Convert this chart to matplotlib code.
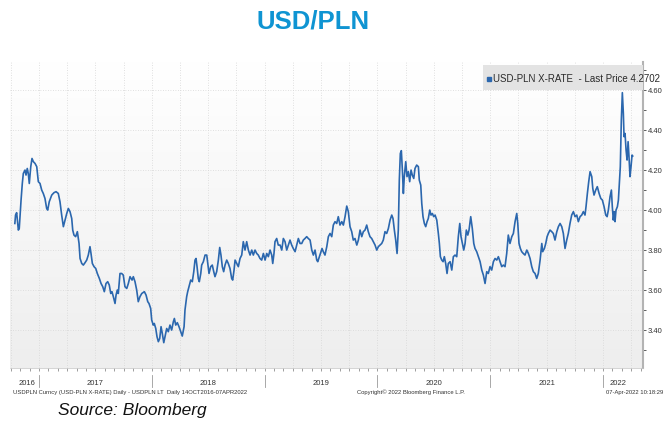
import matplotlib.pyplot as plt
import matplotlib.transforms as mtransforms
import numpy as np
from matplotlib import font_manager
from matplotlib.colors import LinearSegmentedColormap
from matplotlib.patches import Rectangle
from matplotlib.ticker import MultipleLocator, FixedLocator

# USD/PLN daily fixings (decimal year, rate)
dates = [
    2016.786, 2016.792, 2016.802, 2016.808, 2016.817, 2016.825, 2016.841, 2016.852, 2016.861, 2016.876,
    2016.885, 2016.896, 2016.905, 2016.914, 2016.927, 2016.938, 2016.950, 2016.965, 2016.980, 2016.994,
    2017.009, 2017.024, 2017.038, 2017.053, 2017.068, 2017.077, 2017.091, 2017.113, 2017.133, 2017.151,
    2017.171, 2017.186, 2017.201, 2017.216, 2017.231, 2017.246, 2017.260, 2017.275, 2017.290, 2017.299,
    2017.310, 2017.325, 2017.340, 2017.355, 2017.364, 2017.379, 2017.393, 2017.408, 2017.423, 2017.437,
    2017.452, 2017.461, 2017.473, 2017.488, 2017.503, 2017.517, 2017.535, 2017.550, 2017.565, 2017.579,
    2017.594, 2017.609, 2017.623, 2017.636, 2017.647, 2017.659, 2017.674, 2017.683, 2017.694, 2017.703,
    2017.718, 2017.733, 2017.747, 2017.762, 2017.778, 2017.792, 2017.807, 2017.825, 2017.836, 2017.851,
    2017.866, 2017.880, 2017.895, 2017.911, 2017.934, 2017.949, 2017.964, 2017.975, 2017.990, 2017.999,
    2018.013, 2018.022, 2018.035, 2018.046, 2018.058, 2018.070, 2018.082, 2018.093, 2018.106, 2018.117,
    2018.132, 2018.146, 2018.161, 2018.176, 2018.191, 2018.200, 2018.212, 2018.226, 2018.241, 2018.256,
    2018.270, 2018.286, 2018.294, 2018.309, 2018.318, 2018.330, 2018.345, 2018.359, 2018.372, 2018.383,
    2018.392, 2018.401, 2018.412, 2018.421, 2018.434, 2018.442, 2018.457, 2018.472, 2018.487, 2018.496,
    2018.507, 2018.522, 2018.536, 2018.549, 2018.560, 2018.575, 2018.590, 2018.602, 2018.613, 2018.625,
    2018.637, 2018.649, 2018.664, 2018.678, 2018.693, 2018.708, 2018.717, 2018.729, 2018.738, 2018.753,
    2018.767, 2018.782, 2018.797, 2018.811, 2018.826, 2018.841, 2018.856, 2018.871, 2018.886, 2018.900,
    2018.915, 2018.930, 2018.944, 2018.959, 2018.974, 2018.989,
    2019.004, 2019.019, 2019.033, 2019.048, 2019.063, 2019.072, 2019.083, 2019.092, 2019.107, 2019.121,
    2019.137, 2019.152, 2019.166, 2019.181, 2019.196, 2019.210, 2019.225, 2019.240, 2019.254, 2019.270,
    2019.285, 2019.299, 2019.314, 2019.329, 2019.343, 2019.358, 2019.373, 2019.387, 2019.403, 2019.418,
    2019.432, 2019.447, 2019.462, 2019.471, 2019.485, 2019.500, 2019.509, 2019.520, 2019.535, 2019.551,
    2019.565, 2019.580, 2019.595, 2019.609, 2019.624, 2019.639, 2019.653, 2019.668, 2019.684, 2019.698,
    2019.713, 2019.728, 2019.742, 2019.757, 2019.772, 2019.786, 2019.801, 2019.817, 2019.831, 2019.846,
    2019.861, 2019.875, 2019.890, 2019.905, 2019.919, 2019.934, 2019.949, 2019.964, 2019.979, 2019.994,
    2020.008, 2020.023, 2020.038, 2020.052, 2020.067, 2020.082, 2020.097,
    2020.112, 2020.127, 2020.138, 2020.150, 2020.162, 2020.174, 2020.185, 2020.194, 2020.203, 2020.212,
    2020.221, 2020.230, 2020.238, 2020.251, 2020.262, 2020.274, 2020.286, 2020.298, 2020.309, 2020.322,
    2020.333, 2020.348, 2020.363, 2020.371, 2020.384, 2020.393, 2020.404, 2020.416, 2020.428, 2020.440,
    2020.451, 2020.464, 2020.475, 2020.487, 2020.499, 2020.511, 2020.526, 2020.540, 2020.549, 2020.558,
    2020.570, 2020.582, 2020.593, 2020.605, 2020.617, 2020.628, 2020.644, 2020.659, 2020.673, 2020.688,
    2020.703, 2020.717, 2020.730, 2020.741, 2020.753, 2020.765, 2020.777, 2020.788, 2020.801, 2020.812,
    2020.827, 2020.841, 2020.854, 2020.865, 2020.880, 2020.895, 2020.910, 2020.925, 2020.939, 2020.954,
    2020.969, 2020.983, 2020.998, 2021.013, 2021.028, 2021.043, 2021.058, 2021.072, 2021.087, 2021.102,
    2021.116, 2021.131,
    2021.146, 2021.160, 2021.175, 2021.191, 2021.205, 2021.220, 2021.235, 2021.244, 2021.255, 2021.267,
    2021.279, 2021.293, 2021.308, 2021.324, 2021.338, 2021.353, 2021.368, 2021.382, 2021.397, 2021.412,
    2021.426, 2021.442, 2021.457, 2021.465, 2021.480, 2021.492, 2021.504, 2021.515, 2021.530, 2021.545,
    2021.559, 2021.574, 2021.590, 2021.604, 2021.619, 2021.634, 2021.648, 2021.663, 2021.678, 2021.692,
    2021.707, 2021.722, 2021.737, 2021.752, 2021.767, 2021.781, 2021.796, 2021.811, 2021.825, 2021.840,
    2021.849, 2021.861, 2021.873, 2021.885, 2021.900, 2021.909, 2021.920, 2021.935, 2021.949, 2021.965,
    2021.980, 2021.994, 2022.009, 2022.024, 2022.036, 2022.047, 2022.062, 2022.074, 2022.082, 2022.091,
    2022.100, 2022.106, 2022.115, 2022.127, 2022.136, 2022.144, 2022.153, 2022.162, 2022.171, 2022.180,
    2022.186, 2022.195, 2022.204, 2022.213, 2022.222, 2022.230, 2022.239, 2022.248, 2022.257, 2022.263,
]

usdpln = [
    3.933, 3.975, 3.987, 3.95, 3.90, 3.908, 4.05, 4.133, 4.183, 4.20,
    4.175, 4.208, 4.183, 4.133, 4.217, 4.258, 4.242, 4.233, 4.217, 4.142,
    4.133, 4.10, 4.083, 4.058, 4.008, 4.00, 4.042, 4.075, 4.087, 4.092,
    4.083, 4.042, 3.975, 3.917, 3.95, 3.983, 4.008, 3.992, 3.958, 3.90,
    3.875, 3.867, 3.892, 3.833, 3.758, 3.733, 3.725, 3.737, 3.75, 3.775,
    3.817, 3.783, 3.733, 3.717, 3.708, 3.683, 3.658, 3.633, 3.617, 3.592,
    3.633, 3.642, 3.625, 3.583, 3.592, 3.567, 3.533, 3.575, 3.60, 3.583,
    3.683, 3.683, 3.675, 3.617, 3.608, 3.633, 3.667, 3.65, 3.667, 3.642,
    3.60, 3.542, 3.567, 3.583, 3.592, 3.575, 3.542, 3.533, 3.508, 3.45,
    3.425, 3.433, 3.408, 3.367, 3.342, 3.358, 3.417, 3.383, 3.337, 3.367,
    3.408, 3.392, 3.425, 3.40, 3.442, 3.458, 3.425, 3.437, 3.417, 3.392,
    3.37, 3.417, 3.50, 3.567, 3.592, 3.617, 3.65, 3.642, 3.692, 3.75,
    3.758, 3.717, 3.658, 3.642, 3.683, 3.725, 3.742, 3.775, 3.775, 3.733,
    3.683, 3.717, 3.725, 3.692, 3.667, 3.692, 3.75, 3.813, 3.775, 3.717,
    3.692, 3.725, 3.75, 3.733, 3.708, 3.658, 3.65, 3.70, 3.75, 3.733,
    3.717, 3.758, 3.775, 3.842, 3.80, 3.842, 3.80, 3.775, 3.80, 3.775,
    3.80, 3.783, 3.775, 3.758, 3.75, 3.783,
    3.75, 3.783, 3.767, 3.80, 3.775, 3.733, 3.783, 3.842, 3.858, 3.825,
    3.825, 3.80, 3.858, 3.842, 3.80, 3.825, 3.85, 3.825, 3.808, 3.792,
    3.825, 3.858, 3.833, 3.833, 3.85, 3.858, 3.867, 3.858, 3.85, 3.80,
    3.775, 3.80, 3.75, 3.742, 3.767, 3.792, 3.808, 3.792, 3.775, 3.817,
    3.867, 3.883, 3.867, 3.925, 3.942, 3.933, 3.967, 3.925, 3.942, 3.925,
    3.967, 4.02, 3.992, 3.917, 3.892, 3.85, 3.858, 3.825, 3.85, 3.90,
    3.867, 3.892, 3.90, 3.925, 3.892, 3.867, 3.858, 3.842, 3.825, 3.80,
    3.817, 3.825, 3.833, 3.85, 3.892, 3.883, 3.908,
    3.95, 3.975, 3.958, 3.90, 3.85, 3.783, 3.90, 4.15, 4.283, 4.297,
    4.20, 4.083, 4.167, 4.242, 4.167, 4.192, 4.142, 4.20, 4.175, 4.158,
    4.208, 4.225, 4.217, 4.15, 4.125, 4.033, 3.967, 3.933, 3.917, 3.942,
    3.958, 4.00, 3.975, 3.983, 3.967, 3.975, 3.95, 3.883, 3.833, 3.767,
    3.75, 3.742, 3.767, 3.733, 3.683, 3.733, 3.742, 3.70, 3.767, 3.775,
    3.767, 3.867, 3.933, 3.867, 3.833, 3.80, 3.833, 3.90, 3.875, 3.90,
    3.967, 3.908, 3.833, 3.808, 3.792, 3.767, 3.742, 3.70, 3.675, 3.633,
    3.692, 3.683, 3.717, 3.70, 3.742, 3.758, 3.75, 3.767, 3.742, 3.717,
    3.725, 3.717,
    3.783, 3.875, 3.833, 3.867, 3.883, 3.942, 3.983, 3.933, 3.833, 3.808,
    3.792, 3.783, 3.775, 3.80, 3.783, 3.758, 3.717, 3.692, 3.683, 3.658,
    3.683, 3.75, 3.833, 3.792, 3.808, 3.833, 3.867, 3.883, 3.90, 3.892,
    3.883, 3.85, 3.892, 3.917, 3.933, 3.917, 3.883, 3.808, 3.85, 3.883,
    3.933, 3.975, 3.992, 3.967, 3.975, 3.942, 3.967, 3.975, 3.992, 3.975,
    4.017, 4.083, 4.142, 4.192, 4.167, 4.108, 4.075, 4.10, 4.117, 4.083,
    4.058, 4.05, 4.017, 3.975, 3.967, 4.00, 4.067, 4.10, 4.017, 3.95,
    3.992, 3.942, 4.00, 4.017, 4.05, 4.133, 4.217, 4.45, 4.587, 4.483,
    4.367, 4.383, 4.30, 4.25, 4.342, 4.267, 4.167, 4.217, 4.275, 4.2702,
]

last_price = 4.2702
years = [2016, 2017, 2018, 2019, 2020, 2021, 2022]
yticks = [3.40, 3.60, 3.80, 4.00, 4.20, 4.40, 4.60]

installed = {f.name for f in font_manager.fontManager.ttflist}
narrow = 'Liberation Sans Narrow' if 'Liberation Sans Narrow' in installed else 'Liberation Sans'

line_blue = '#2b67ae'

fig = plt.figure(figsize=(6.67, 4.28), dpi=100)
ax = fig.add_axes([0.015, 0.140, 0.949, 0.715])

xmin, xmax = 2016.743, 2022.354
ymin, ymax = 3.21, 4.74
ax.set_xlim(xmin, xmax)
ax.set_ylim(ymin, ymax)

# soft white -> grey background like the terminal chart
bg = LinearSegmentedColormap.from_list('bg', ['#eeeeee', '#ffffff'])
ax.imshow(np.linspace(1, 0, 256).reshape(-1, 1), cmap=bg, vmin=0, vmax=1,
          extent=[xmin, xmax, ymin, ymax], aspect='auto', zorder=0)

ax.plot(dates, usdpln, color=line_blue, lw=1.2, zorder=3)

# axes styling
for s in ['left', 'top']:
    ax.spines[s].set_visible(False)
ax.spines['right'].set_color('#b3b3b3')
ax.spines['right'].set_linewidth(1.5)
ax.spines['bottom'].set_color('#c4c4c4')
ax.spines['bottom'].set_linewidth(0.5)

ax.yaxis.tick_right()
ax.set_yticks(yticks)
ax.set_yticklabels(['%.2f' % v for v in yticks], family=narrow)
ax.yaxis.set_minor_locator(MultipleLocator(0.1))
ax.tick_params(axis='y', which='both', direction='out', length=2.5, width=0.6,
               color='#444444', labelsize=5.5, labelcolor='#333333', pad=1)

quarters = [y + q / 4 for y in range(2016, 2023) for q in range(4)]
months = [y + m / 12 for y in range(2016, 2023) for m in range(12)]
ax.xaxis.set_major_locator(FixedLocator(quarters))
ax.xaxis.set_minor_locator(FixedLocator(months))
ax.tick_params(axis='x', which='both', direction='out', length=2.5, width=0.5,
               color='#777777', labelbottom=False)

ax.set_axisbelow(True)
ax.grid(True, which='major', color='#d6d6d6', linestyle=(0, (1, 2)), linewidth=0.6)

# year bands below the plot
trans = mtransforms.blended_transform_factory(ax.transData, ax.transAxes)
for yr in years[1:]:
    ax.plot([yr, yr], [-0.023, -0.062], transform=trans, color='#9a9a9a',
            lw=0.6, clip_on=False)
for yr in years:
    lo = max(yr, dates[0])
    hi = min(yr + 1, dates[-1])
    ax.text((lo + hi) / 2, -0.052, str(yr), transform=trans, ha='center', va='center',
            fontsize=5.5, color='#333333', family=narrow)

# legend box
ax.add_patch(Rectangle((0.747, 0.908), 0.253, 0.082, transform=ax.transAxes,
                       facecolor='#e3e3e3', edgecolor='none', zorder=4))
ax.plot([0.756], [0.944], marker='s', ms=3.5, color=line_blue, transform=ax.transAxes,
        zorder=5, clip_on=False)
ax.text(0.763, 0.944, 'USD-PLN X-RATE  - Last Price %.4f' % last_price,
        transform=ax.transAxes, ha='left', va='center', fontsize=7,
        color='#2b2b2b', family=narrow, zorder=5)

# last price tag on the right axis
ax.text(1.004, last_price, '%.4f' % last_price, transform=trans, ha='left', va='center',
        fontsize=5, color='white', family=narrow, zorder=6, clip_on=False,
        bbox=dict(boxstyle='larrow,pad=0.18', facecolor='#2d6cb0', edgecolor='none'))

# footer lines
fig.text(13 / 667, 0.084, 'USDPLN Curncy (USD-PLN X-RATE) Daily - USDPLN LT  Daily 14OCT2016-07APR2022',
         fontsize=4.2, color='#333333', family=narrow, ha='left', va='center')
fig.text(0.616, 0.084, 'Copyright\u00a9 2022 Bloomberg Finance L.P.',
         fontsize=4.2, color='#333333', family=narrow, ha='center', va='center')
fig.text(0.994, 0.084, '07-Apr-2022 10:18:29',
         fontsize=4.2, color='#333333', family=narrow, ha='right', va='center')

fig.text(0.469, 0.949, 'USD/PLN', ha='center', va='center', fontsize=18.5,
         fontweight='bold', color='#0f94d2', family=narrow)
fig.text(58 / 667, 0.042, 'Source: Bloomberg', ha='left', va='center', fontsize=12.5,
         style='italic', color='#111111', family='Liberation Sans')

fig.savefig('out.png', dpi=100)
